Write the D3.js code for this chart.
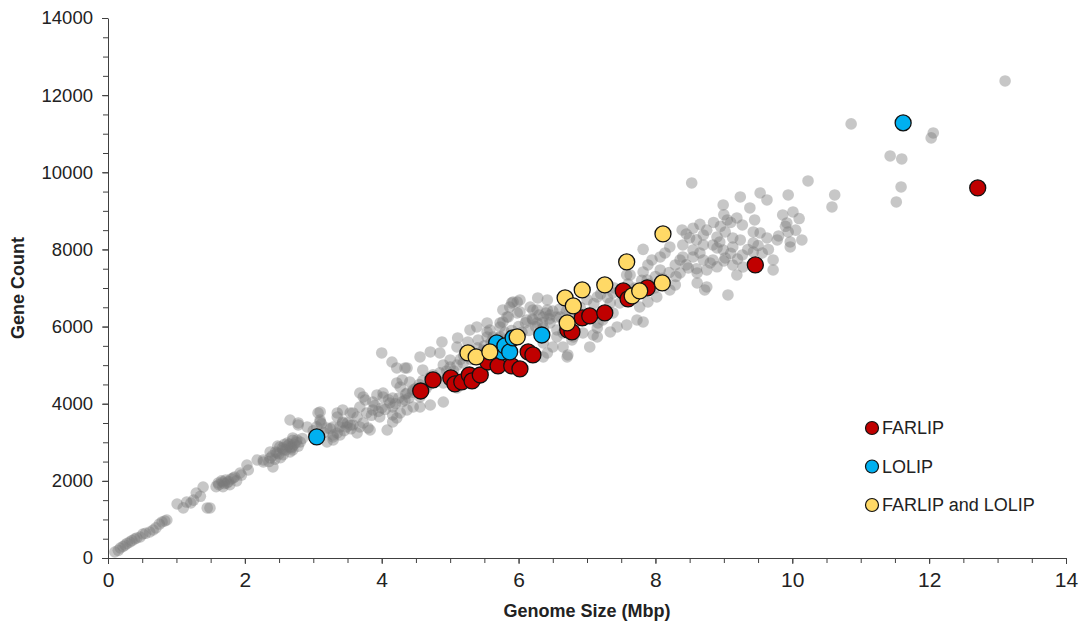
<!DOCTYPE html>
<html>
<head>
<meta charset="utf-8">
<script src="https://cdn.jsdelivr.net/npm/d3@7"></script>
<style>
	body { margin: 0; background: #fff; }
	text { font-family: "Liberation Sans", Arial, sans-serif; fill: #222; }
	.axis-title { font-weight: bold; font-size: 18px; }
</style>
</head>
<body>
<svg id="chart" width="1085" height="637"></svg>
<script>
// genome size (Mbp), gene count
var greyPoints = [
	[0.10,156],[0.15,200],[0.18,259],[0.22,300],[0.25,337],[0.28,380],[0.32,415],[0.35,450],[0.39,493],
	[0.42,520],[0.47,545],[0.51,622],[0.55,640],[0.61,674],[0.66,726],[0.70,780],[0.75,880],[0.79,934],
	[0.83,960],[0.86,985],[1.01,1400],[1.10,1300],[1.15,1450],[1.21,1426],[1.25,1500],[1.29,1685],
	[1.35,1600],[1.39,1841],[1.45,1297],[1.49,1297],[1.58,1850],[1.61,1945],[1.62,1900],[1.66,2000],
	[1.68,1971],[1.68,1850],[1.70,1930],[1.72,2020],[1.74,1945],[1.76,1980],[1.78,1900],[1.80,2050],
	[1.83,2074],[1.85,2100],[1.88,2000],[1.93,2204],[1.95,2150],[2.03,2411],[2.05,2282],[2.18,2541],
	[2.27,2541],[2.27,2489],[2.35,2500],[2.37,2749],[2.37,2593],[2.40,2650],[2.41,2360],[2.44,2560],
	[2.45,2750],[2.47,2723],[2.48,2900],[2.50,2700],[2.51,2878],[2.52,2600],[2.55,2850],[2.56,2800],
	[2.56,2680],[2.58,2950],[2.60,2800],[2.62,2982],[2.62,2900],[2.65,2950],[2.66,3578],[2.66,2878],
	[2.66,2750],[2.68,2850],[2.69,2878],[2.70,3112],[2.70,2800],[2.70,3050],[2.72,2950],[2.75,3000],
	[2.76,3060],[2.78,3501],[2.78,3449],[2.78,2900],[2.81,3008],[2.84,3100],[2.91,3397],[3.00,3300],
	[3.05,3400],[3.07,3760],[3.10,3527],[3.10,3786],[3.10,3578],[3.12,3480],[3.15,3250],[3.20,3371],
	[3.20,3008],[3.25,3350],[3.29,3189],[3.29,3397],[3.29,3138],[3.29,3060],[3.35,3760],[3.35,3241],
	[3.35,3656],[3.39,3397],[3.39,3189],[3.43,3527],[3.43,3838],[3.43,3501],[3.45,3300],[3.49,3397],
	[3.50,3500],[3.54,3760],[3.54,3449],[3.55,3350],[3.58,3760],[3.58,3449],[3.64,3656],[3.64,3241],
	[3.68,4278],[3.68,3397],[3.68,3915],[3.73,4175],[3.73,3501],[3.76,4097],[3.78,3760],[3.80,3371],
	[3.83,3319],[3.85,3700],[3.87,3838],[3.87,4045],[3.90,3950],[3.93,4227],[3.95,3800],[3.97,3656],
	[4.00,5316],[4.00,3890],[4.02,4175],[4.02,4278],[4.05,3850],[4.08,3319],[4.10,4100],[4.12,4019],
	[4.15,5082],[4.16,3915],[4.16,4149],[4.16,3708],[4.16,3527],[4.20,4000],[4.22,4538],[4.22,3630],
	[4.22,4927],[4.25,4150],[4.27,4434],[4.27,3760],[4.30,4616],[4.30,4050],[4.34,4927],[4.34,4097],
	[4.35,4250],[4.37,4278],[4.37,4927],[4.37,3838],[4.40,4150],[4.41,4564],[4.45,4300],[4.46,4356],
	[4.46,3915],[4.50,4400],[4.55,4500],[4.56,5212],[4.56,4175],[4.56,3915],[4.60,4875],[4.60,4600],
	[4.65,4400],[4.70,4500],[4.71,5342],[4.71,4693],[4.71,3967],[4.75,4750],[4.80,4650],[4.85,5316],
	[4.85,4800],[4.88,5601],[4.90,5005],[4.90,4538],[4.90,4045],[4.95,4850],[5.00,5134],[5.00,4950],
	[5.05,4850],[5.10,5000],[5.10,4408],[5.10,5471],[5.11,5705],[5.15,5150],[5.19,5056],[5.20,5250],
	[5.26,5601],[5.29,5393],[5.29,5912],[5.30,5150],[5.35,5300],[5.39,5990],[5.40,5450],[5.41,5653],
	[5.45,5250],[5.48,5393],[5.50,5500],[5.54,5860],[5.54,6094],[5.54,5731],[5.55,5350],[5.58,5912],
	[5.60,5600],[5.63,5731],[5.63,5393],[5.65,5450],[5.70,5700],[5.73,5990],[5.73,5575],[5.73,6094],
	[5.73,5731],[5.75,5500],[5.77,6120],[5.77,6431],[5.80,5850],[5.83,6249],[5.85,6249],[5.85,5650],
	[5.87,6508],[5.90,6612],[5.90,5900],[5.92,6638],[5.95,5750],[5.98,6638],[5.98,6353],[6.00,6000],
	[6.02,6379],[6.02,6690],[6.05,5850],[6.10,6100],[6.12,6171],[6.12,5393],[6.15,5900],[6.17,5212],
	[6.17,6508],[6.20,6200],[6.21,6431],[6.21,6171],[6.25,6000],[6.27,6094],[6.27,6431],[6.28,6742],
	[6.30,6300],[6.35,6100],[6.36,5964],[6.36,5575],[6.36,5212],[6.36,6249],[6.40,6350],[6.42,6690],
	[6.42,6431],[6.42,5316],[6.45,6200],[6.46,6301],[6.46,6094],[6.50,5471],[6.50,6400],[6.55,6250],
	[6.56,5912],[6.56,5731],[6.60,6450],[6.61,6249],[6.65,5834],[6.65,5471],[6.70,6400],[6.71,5212],
	[6.72,5264],[6.75,6353],[6.78,5653],[6.80,5731],[6.80,6600],[6.90,6500],[6.94,5834],[7.00,6700],
	[7.04,6353],[7.04,5471],[7.09,5782],[7.10,6600],[7.15,5964],[7.15,6768],[7.15,5731],[7.16,6094],
	[7.20,6850],[7.23,6171],[7.30,6750],[7.34,6612],[7.34,5860],[7.38,6353],[7.38,6872],[7.40,7000],
	[7.44,5990],[7.48,6612],[7.50,6900],[7.58,7338],[7.58,6768],[7.58,6042],[7.60,7100],[7.63,7338],
	[7.70,7000],[7.73,6171],[7.77,6508],[7.80,7200],[7.82,8002],[7.82,7416],[7.82,6120],[7.88,7209],
	[7.89,7597],[7.89,6638],[7.90,7100],[7.95,7727],[7.99,7001],[8.00,7300],[8.02,6768],[8.07,7468],
	[8.07,7805],[8.10,7250],[8.14,7909],[8.20,7400],[8.21,8064],[8.21,6949],[8.29,7597],[8.29,7079],
	[8.30,7300],[8.36,7390],[8.36,7727],[8.39,8505],[8.40,8116],[8.40,7805],[8.45,7600],[8.45,8400],
	[8.48,7520],[8.50,8300],[8.53,9724],[8.55,7986],[8.55,7805],[8.55,8550],[8.60,7500],[8.60,8250],
	[8.61,7390],[8.61,7131],[8.65,7909],[8.65,8650],[8.70,8375],[8.70,8116],[8.70,7727],[8.72,6949],
	[8.75,7468],[8.75,8500],[8.75,7027],[8.80,7650],[8.84,8116],[8.84,7727],[8.85,8700],[8.90,8324],
	[8.90,8038],[8.90,7550],[8.94,8194],[8.95,8600],[8.99,9153],[8.99,7986],[9.00,7700],[9.00,8900],
	[9.02,8453],[9.02,7779],[9.05,8764],[9.06,6820],[9.10,7900],[9.10,8700],[9.13,8298],[9.13,8064],
	[9.13,7597],[9.19,8816],[9.19,7338],[9.20,7750],[9.24,9361],[9.24,8246],[9.27,8634],[9.27,7857],
	[9.28,7546],[9.35,8000],[9.38,9076],[9.43,8453],[9.43,8168],[9.43,7935],[9.45,8764],[9.50,8100],
	[9.53,9464],[9.53,8427],[9.56,7909],[9.63,9283],[9.63,8298],[9.65,8000],[9.72,7727],[9.72,7468],
	[9.78,8246],[9.80,8350],[9.86,8894],[9.90,8600],[9.92,8687],[9.94,9413],[9.94,8453],[9.97,8194],
	[9.97,8064],[10.01,8972],[10.05,8500],[10.10,8800],[10.14,8246],[10.23,9776],[10.58,9101],
	[10.62,9413],[10.86,11254],[11.43,10424],[11.52,9231],[11.59,9620],[11.60,10346],[12.03,10891],
	[12.06,11020],[13.11,12368]
];

var farlipPoints = [
	[4.57,4330],[4.75,4616],[5.01,4668],[5.07,4512],[5.17,4564],[5.28,4745],[5.32,4590],[5.44,4745],
	[5.55,5082],[5.70,4979],[5.90,4979],[6.02,4901],[6.14,5342],[6.21,5264],[6.72,5912],[6.78,5860],
	[6.93,6223],[7.04,6275],[7.26,6353],[7.53,6923],[7.60,6716],[7.88,7001],[9.46,7597],[12.71,9594]
];

var lolipPoints = [
	[3.05,3138],[5.68,5575],[5.76,5342],[5.80,5497],[5.87,5342],[5.92,5705],[6.34,5782],[11.62,11280]
];

var bothPoints = [
	[5.26,5316],[5.38,5212],[5.58,5342],[5.98,5731],[6.71,6094],[6.68,6742],[6.80,6534],[6.93,6949],
	[7.26,7079],[7.58,7675],[8.11,8401],[8.10,7131],[7.66,6794],[7.77,6923]
];

var xTicks = [0, 2, 4, 6, 8, 10, 12, 14];
var yTicks = [0, 2000, 4000, 6000, 8000, 10000, 12000, 14000];
var legendLabels = ['FARLIP', 'LOLIP', 'FARLIP and LOLIP'];
var legendColors = ['#c00000', '#00b0f0', '#ffd966'];

var margin = { top: 18, right: 19, bottom: 79, left: 108 },
	width = 1085 - margin.left - margin.right,
	height = 637 - margin.top - margin.bottom;

var svg = d3.select('#chart'),
	g = svg.append('g').attr('transform', 'translate(' + margin.left + ',' + margin.top + ')');

var x = d3.scaleLinear().domain([0, 14]).range([0, width]),
	y = d3.scaleLinear().domain([0, 14000]).range([height, 0]);

// minor ticks first, then the labelled ones
g.append('g')
	.attr('transform', 'translate(0,' + height + ')')
	.call(d3.axisBottom(x).tickValues(d3.range(0, 14.01, 0.5)).tickSize(5).tickFormat(''))
	.call(function(a) { a.select('.domain').remove(); });
g.append('g')
	.call(d3.axisLeft(y).tickValues(d3.range(0, 14001, 500)).tickSize(5).tickFormat(''))
	.call(function(a) { a.select('.domain').remove(); });

var xAxis = g.append('g')
	.attr('transform', 'translate(0,' + height + ')')
	.call(d3.axisBottom(x).tickValues(xTicks).tickSizeInner(6).tickSizeOuter(0).tickPadding(8));
var yAxis = g.append('g')
	.call(d3.axisLeft(y).tickValues(yTicks).tickFormat(d3.format('d')).tickSizeInner(6).tickSizeOuter(0).tickPadding(9));

svg.selectAll('.domain').attr('stroke', '#404040');
svg.selectAll('.tick line').attr('stroke', '#404040');
xAxis.selectAll('text')
	.attr('font-size', 21)
	.attr('font-family', '"Liberation Sans Narrow", "Liberation Sans", Arial, sans-serif')
	.attr('fill', '#222');
yAxis.selectAll('text')
	.attr('font-size', 18.5)
	.attr('font-family', '"Liberation Sans", Arial, sans-serif')
	.attr('fill', '#222');

// grey background genomes
g.append('g').selectAll('circle')
	.data(greyPoints)
	.enter().append('circle')
	.attr('cx', function(d) { return x(d[0]); })
	.attr('cy', function(d) { return y(d[1]); })
	.attr('r', 5.8)
	.attr('fill', '#7a7a7a')
	.attr('fill-opacity', 0.42);

var groups = [farlipPoints, lolipPoints, bothPoints];
groups.forEach(function(points, i) {
	g.append('g').selectAll('circle')
		.data(points)
		.enter().append('circle')
		.attr('cx', function(d) { return x(d[0]); })
		.attr('cy', function(d) { return y(d[1]); })
		.attr('r', 8)
		.attr('fill', legendColors[i])
		.attr('stroke', '#111')
		.attr('stroke-width', 1.3);
});

// axis titles
svg.append('text')
	.attr('class', 'axis-title')
	.attr('text-anchor', 'middle')
	.attr('x', margin.left + x(7))
	.attr('y', 617)
	.text('Genome Size (Mbp)');

svg.append('text')
	.attr('class', 'axis-title')
	.attr('text-anchor', 'middle')
	.attr('transform', 'translate(24,' + (margin.top + y(7000)) + ') rotate(-90)')
	.text('Gene Count');

// legend
var legend = svg.append('g').attr('transform', 'translate(872,428)');
legendLabels.forEach(function(label, i) {
	var item = legend.append('g').attr('transform', 'translate(0,' + (i * 38.5) + ')');
	item.append('circle')
		.attr('r', 6.5)
		.attr('fill', legendColors[i])
		.attr('stroke', '#111')
		.attr('stroke-width', 1.2);
	item.append('text')
		.attr('x', 10)
		.attr('dy', '0.36em')
		.attr('font-size', 18)
		.text(label);
});
</script>
</body>
</html>
